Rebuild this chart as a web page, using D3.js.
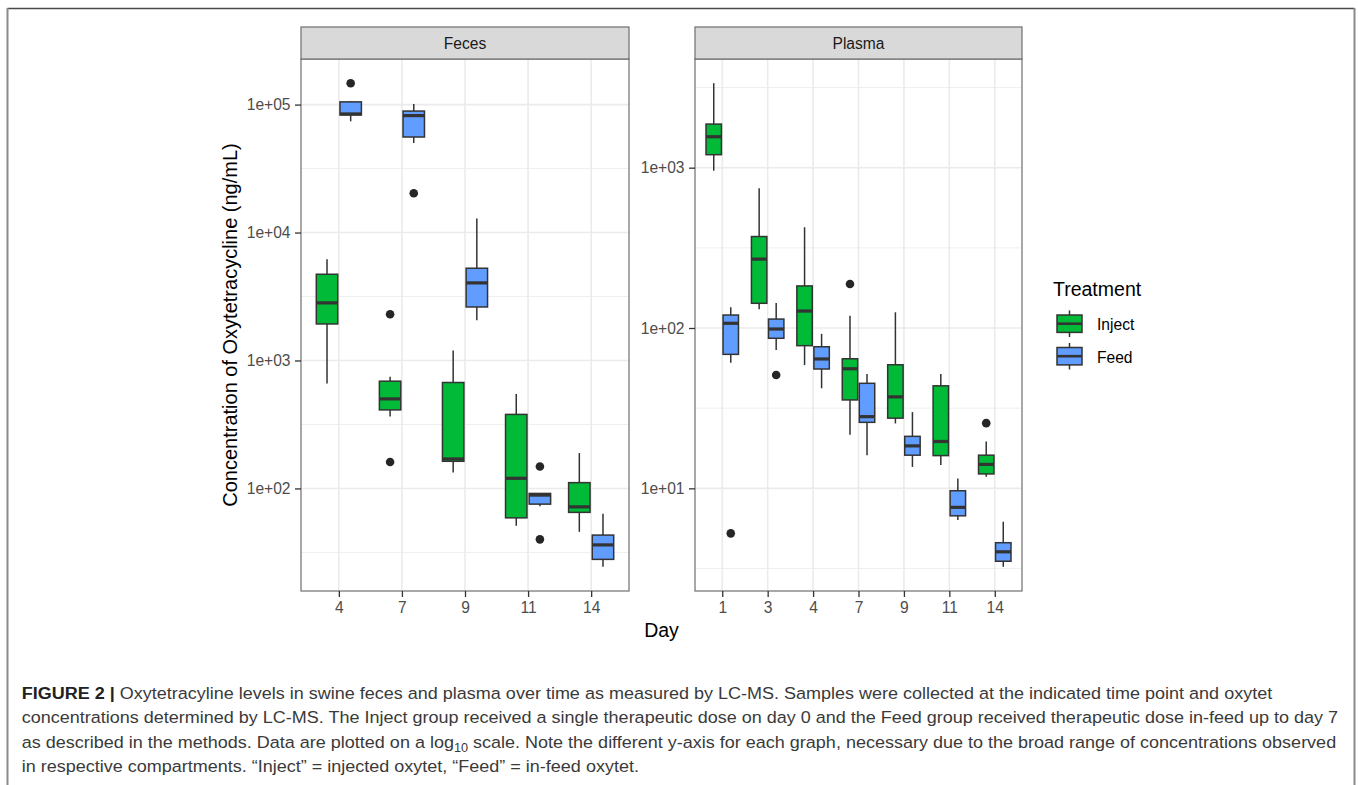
<!DOCTYPE html>
<html>
<head>
<meta charset="utf-8">
<script src="https://cdn.jsdelivr.net/npm/d3@7"></script>
<style>
  body { margin: 0; background: #fff; }
  svg text { font-family: "Liberation Sans", Arial, sans-serif; }
</style>
</head>
<body>
<div class="chart"></div>
<script>
// x categories of each panel
var fecesDays = ["4", "7", "9", "11", "14"];
var plasmaDays = ["1", "3", "4", "7", "9", "11", "14"];
var treatments = ["Inject", "Feed"];
var treatmentColors = ["#00BA38", "#619CFF"];

// box stats per day: [lower whisker, Q1, median, Q3, upper whisker]
var fecesInject = [
  [661, 1930, 2820, 4720, 6180],
  [365, 411, 501, 689, 745],
  [133, 163, 170, 673, 1197],
  [51, 58.9, 120, 379, 548],
  [45.8, 65, 71.8, 111, 189]
];
var fecesInjectOutliers = [[], [2300, 161], [], [], []];

var fecesFeed = [
  [74000, 83000, 84500, 105000, 106000],
  [50200, 55800, 82000, 89000, 101000],
  [2065, 2620, 4040, 5260, 12900],
  [72.7, 75.4, 88.7, 91.4, 91.4],
  [24.4, 27.9, 36.2, 43.2, 63.3]
];
var fecesFeedOutliers = [[147000], [20300], [], [148.5, 40], []];

var plasmaInject = [
  [957, 1205, 1560, 1870, 3365],
  [131, 142.6, 269, 372, 743],
  [58.7, 77.6, 127.6, 183, 425],
  [21.6, 35.6, 55.7, 64.3, 119.4],
  [25.4, 27.4, 37.2, 59, 125.3],
  [14.0, 16.0, 19.6, 43.6, 51.6],
  [11.8, 12.3, 14.1, 16.1, 19.6]
];
var plasmaInjectOutliers = [[], [], [], [188], [], [], [25.5]];

var plasmaFeed = [
  [60.8, 68.5, 107, 120.5, 134.6],
  [73, 86.3, 98.6, 113.7, 143],
  [42.1, 55.5, 64.1, 76.4, 92],
  [16.1, 25.8, 28, 45.2, 51.6],
  [13.6, 16.1, 18.4, 21.1, 29.9],
  [6.34, 6.74, 7.61, 9.66, 11.5],
  [3.24, 3.51, 4.02, 4.58, 6.19]
];
var plasmaFeedOutliers = [[5.24], [50.9], [], [], [], [], []];

// y tick values
var fecesTicks = [1e2, 1e3, 1e4, 1e5];
var plasmaTicks = [1e1, 1e2, 1e3];

var captionLines = [
  [["FIGURE 2 | ", true], ["Oxytetracyline levels in swine feces and plasma over time as measured by LC-MS. Samples were collected at the indicated time point and oxytet", false]],
  [["concentrations determined by LC-MS. The Inject group received a single therapeutic dose on day 0 and the Feed group received therapeutic dose in-feed up to day 7", false]],
  [["as described in the methods. Data are plotted on a log", false], ["10", "sub"], [" scale. Note the different y-axis for each graph, necessary due to the broad range of concentrations observed", false]],
  [["in respective compartments. \u201cInject\u201d = injected oxytet, \u201cFeed\u201d = in-feed oxytet.", false]]
];

var svgWidth = 1358;
var svgHeight = 785;
var panelTop = 59;
var panelBottom = 591;
var stripTop = 27;
var small = "15.6px";
var big = "19.5px";

var svg = d3.select(".chart")
  .append("svg")
  .attr("width", svgWidth)
  .attr("height", svgHeight);

// figure frame
svg.append("line").attr("x1", 7.5).attr("x2", 1354.5).attr("y1", 8.5).attr("y2", 8.5)
  .attr("stroke", "#4a4a4a").attr("stroke-width", 1.5);
svg.append("line").attr("x1", 7.5).attr("x2", 7.5).attr("y1", 8).attr("y2", svgHeight)
  .attr("stroke", "#8a8a8a").attr("stroke-width", 2);
svg.append("line").attr("x1", 1354.5).attr("x2", 1354.5).attr("y1", 8).attr("y2", svgHeight)
  .attr("stroke", "#8a8a8a").attr("stroke-width", 2);

function drawPanel(title, days, left, right, series, outliers, ticks) {
  var x = d3.scalePoint().domain(days).range([left, right]).padding(0.6);

  // y domain from data, expanded 5% in log space like ggplot
  var all = [];
  series.forEach(function(s) { s.forEach(function(b) { all = all.concat(b); }); });
  outliers.forEach(function(s) { s.forEach(function(o) { all = all.concat(o); }); });
  var lo = Math.log10(d3.min(all)), hi = Math.log10(d3.max(all));
  var pad = (hi - lo) * 0.05;
  var y = d3.scaleLog()
    .domain([Math.pow(10, lo - pad), Math.pow(10, hi + pad)])
    .range([panelBottom, panelTop]);

  var g = svg.append("g");

  g.append("rect")
    .attr("x", left).attr("y", panelTop)
    .attr("width", right - left).attr("height", panelBottom - panelTop)
    .attr("fill", "#fff");

  // minor grid at half decades
  var minor = [];
  for (var k = Math.floor(lo - pad); k <= Math.ceil(hi + pad); k++) {
    var v = Math.pow(10, k + 0.5);
    if (v > y.domain()[0] && v < y.domain()[1]) minor.push(v);
  }
  g.selectAll(".minor").data(minor).enter().append("line")
    .attr("x1", left).attr("x2", right)
    .attr("y1", d => y(d)).attr("y2", d => y(d))
    .attr("stroke", "#ededed").attr("stroke-width", 0.9);

  g.selectAll(".majory").data(ticks).enter().append("line")
    .attr("x1", left).attr("x2", right)
    .attr("y1", d => y(d)).attr("y2", d => y(d))
    .attr("stroke", "#ebebeb").attr("stroke-width", 1.6);

  g.selectAll(".majorx").data(days).enter().append("line")
    .attr("x1", d => x(d)).attr("x2", d => x(d))
    .attr("y1", panelTop).attr("y2", panelBottom)
    .attr("stroke", "#ebebeb").attr("stroke-width", 1.6);

  var step = x.step();
  var offsets = [-0.1875, 0.1875];
  var boxW = 0.34 * step;

  series.forEach(function(stats, si) {
    var boxes = g.append("g");
    var items = stats.map(function(b, i) {
      return { day: days[i], b: b, cx: x(days[i]) + offsets[si] * step };
    });

    boxes.selectAll(".whisker").data(items).enter().append("line")
      .attr("x1", d => d.cx).attr("x2", d => d.cx)
      .attr("y1", d => y(d.b[0])).attr("y2", d => y(d.b[4]))
      .attr("stroke", "#333").attr("stroke-width", 1.5);

    boxes.selectAll(".box").data(items).enter().append("rect")
      .attr("x", d => d.cx - boxW / 2)
      .attr("y", d => y(d.b[3]))
      .attr("width", boxW)
      .attr("height", d => y(d.b[1]) - y(d.b[3]))
      .attr("fill", treatmentColors[si])
      .attr("stroke", "#333").attr("stroke-width", 1.5);

    boxes.selectAll(".median").data(items).enter().append("line")
      .attr("x1", d => d.cx - boxW / 2).attr("x2", d => d.cx + boxW / 2)
      .attr("y1", d => y(d.b[2])).attr("y2", d => y(d.b[2]))
      .attr("stroke", "#333").attr("stroke-width", 3.2);

    var pts = [];
    outliers[si].forEach(function(o, i) {
      o.forEach(function(v) { pts.push({ cx: x(days[i]) + offsets[si] * step, v: v }); });
    });
    boxes.selectAll(".out").data(pts).enter().append("circle")
      .attr("cx", d => d.cx).attr("cy", d => y(d.v))
      .attr("r", 4.3).attr("fill", "#262626");
  });

  // panel border
  g.append("rect")
    .attr("x", left).attr("y", panelTop)
    .attr("width", right - left).attr("height", panelBottom - panelTop)
    .attr("fill", "none").attr("stroke", "#6e6e6e").attr("stroke-width", 1.2);

  // strip
  g.append("rect")
    .attr("x", left).attr("y", stripTop)
    .attr("width", right - left).attr("height", panelTop - stripTop)
    .attr("fill", "#d9d9d9").attr("stroke", "#6e6e6e").attr("stroke-width", 1.2);
  g.append("text")
    .attr("x", (left + right) / 2).attr("y", 49.3)
    .attr("text-anchor", "middle")
    .style("font-size", small).attr("fill", "#1a1a1a")
    .text(title);

  // axes
  var yAxis = d3.axisLeft(y).tickValues(ticks)
    .tickFormat(d => "1e+" + String(Math.round(Math.log10(d))).padStart(2, "0"))
    .tickSize(6).tickPadding(4.5);
  var ya = g.append("g").attr("transform", `translate(${left}, 0)`).call(yAxis);

  var xAxis = d3.axisBottom(x).tickSize(6).tickPadding(4.8);
  var xa = g.append("g").attr("transform", `translate(0, ${panelBottom})`).call(xAxis);

  [ya, xa].forEach(function(a) {
    a.select(".domain").remove();
    a.selectAll("line").attr("stroke", "#333").attr("stroke-width", 1.3);
    a.selectAll("text").style("font-size", small).attr("fill", "#4d4d4d")
      .style("font-family", '"Liberation Sans", Arial, sans-serif');
  });
}

drawPanel("Feces", fecesDays, 301, 629,
  [fecesInject, fecesFeed], [fecesInjectOutliers, fecesFeedOutliers], fecesTicks);
drawPanel("Plasma", plasmaDays, 695, 1022,
  [plasmaInject, plasmaFeed], [plasmaInjectOutliers, plasmaFeedOutliers], plasmaTicks);

// axis titles
svg.append("text")
  .attr("x", 661.5).attr("y", 637)
  .attr("text-anchor", "middle")
  .style("font-size", big).attr("fill", "#000")
  .text("Day");

svg.append("text")
  .attr("transform", "translate(237, 325) rotate(-90)")
  .attr("text-anchor", "middle")
  .style("font-size", "20px").attr("fill", "#000")
  .text("Concentration of Oxytetracycline (ng/mL)");

// legend
var legend = svg.append("g");
legend.append("text")
  .attr("x", 1053).attr("y", 296)
  .style("font-size", big).attr("fill", "#000")
  .text("Treatment");

var keys = legend.selectAll(".key").data(treatments).enter().append("g")
  .attr("transform", (d, i) => `translate(1069.5, ${323.7 + i * 32.5})`);
keys.append("line")
  .attr("x1", 0).attr("x2", 0).attr("y1", -13.3).attr("y2", 13.3)
  .attr("stroke", "#333").attr("stroke-width", 1.5);
keys.append("rect")
  .attr("x", -12.5).attr("y", -8.7).attr("width", 25).attr("height", 17.4)
  .attr("fill", (d, i) => treatmentColors[i])
  .attr("stroke", "#333").attr("stroke-width", 1.5);
keys.append("line")
  .attr("x1", -12.5).attr("x2", 12.5).attr("y1", 0).attr("y2", 0)
  .attr("stroke", "#333").attr("stroke-width", 2.6);
keys.append("text")
  .attr("x", 27.5).attr("y", 6.5)
  .style("font-size", small).attr("fill", "#000")
  .text(d => d);

// caption, squeezed to the width of the printed lines
var capX = 21.7;
var capBase = [699, 723.3, 747.7, 772];
var capTexts = captionLines.map(function(parts, li) {
  var t = svg.append("text")
    .attr("transform", `translate(${capX}, ${capBase[li]})`)
    .style("font-family", '"Liberation Sans Narrow", "Liberation Sans", Arial, sans-serif')
    .style("font-size", "17px")
    .attr("fill", "#3a3a3a");
  parts.forEach(function(p) {
    var ts = t.append("tspan").text(p[0]);
    if (p[1] === true) ts.attr("font-weight", "bold").attr("fill", "#222");
    if (p[1] === "sub") ts.style("font-size", "12px").attr("dy", 4);
    if (p[1] === false && li === 2 && p[0].charAt(0) === " ") ts.attr("dy", -4);
  });
  return t;
});
var target = 1339 - capX;
var k = target / capTexts[1].node().getComputedTextLength();
capTexts.forEach(function(t, li) {
  t.attr("transform", `translate(${capX}, ${capBase[li]}) scale(${k}, 1)`);
});
</script>
</body>
</html>
